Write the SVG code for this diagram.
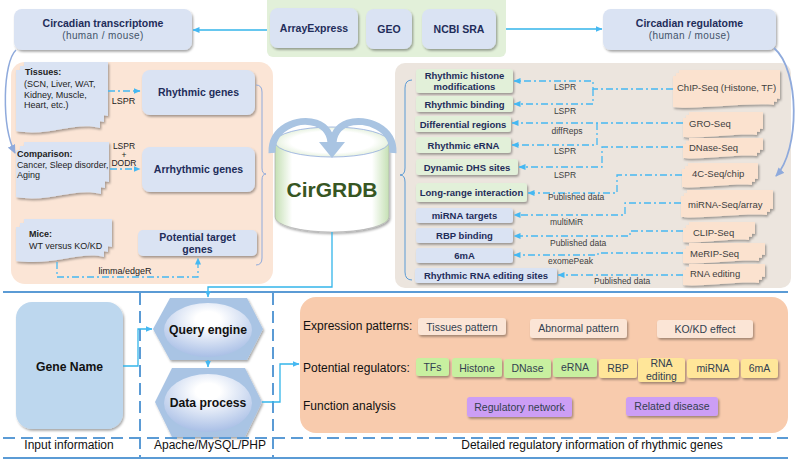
<svg xmlns="http://www.w3.org/2000/svg" width="796" height="460" viewBox="0 0 796 460">
<defs>
<filter id="sh" x="-10%" y="-10%" width="130%" height="150%"><feDropShadow dx="1.2" dy="1.8" stdDeviation="1.1" flood-color="#000" flood-opacity="0.35"/></filter>
<marker id="ah" markerWidth="7" markerHeight="6" refX="6.5" refY="3" orient="auto" markerUnits="userSpaceOnUse"><path d="M0,0 L7,3 L0,6 z" fill="#45b8f2"/></marker>
<marker id="ahg" markerWidth="9" markerHeight="8" refX="8" refY="4" orient="auto" markerUnits="userSpaceOnUse"><path d="M0,0 L9,4 L0,8 z" fill="#8faadc"/></marker>
<linearGradient id="cylG" x1="0" y1="0" x2="1" y2="0"><stop offset="0" stop-color="#c5e0b4"/><stop offset="0.15" stop-color="#fff"/><stop offset="0.85" stop-color="#fff"/><stop offset="1" stop-color="#c5e0b4"/></linearGradient>
<radialGradient id="topG" cx="0.5" cy="0.5" r="0.6"><stop offset="0.6" stop-color="#fff"/><stop offset="1" stop-color="#d5e8c8"/></radialGradient>
<radialGradient id="ellG" cx="0.5" cy="0.3" r="0.7"><stop offset="0.2" stop-color="#fff"/><stop offset="1" stop-color="#a9bfe6"/></radialGradient>
<style>
text{font-family:"Liberation Sans",Arial,sans-serif}
.bx{fill:#dae3f3;filter:url(#sh)}
.gb{fill:#e2f0d9;filter:url(#sh)}
.nv{fill:#1f2d5a;font-weight:bold}
.sub{fill:#44546a;font-size:10px;letter-spacing:0.4px}
.doc{fill:#dae3f3}
.pdoc{fill:#fbe2cf}
.dd{fill:none;stroke:#45b8f2;stroke-width:1.3;stroke-dasharray:7 3 2 3}
.lbl{font-size:8.5px;fill:#404040}
.sl{fill:none;stroke:#33b5ea;stroke-width:1.3}
.bl{stroke:#5b9bd5;stroke-width:2;fill:none}
.bd{stroke:#5b9bd5;stroke-width:2;fill:none;stroke-dasharray:12 6}
.ep{fill:#fbe5d6;filter:url(#sh)}
.gr{fill:#c8f0a0;filter:url(#sh)}
.yl{fill:#ffe699;filter:url(#sh)}
.pu{fill:#cc9ef5;filter:url(#sh)}
.bt{font-size:10.5px;fill:#333f50;text-anchor:middle}
.hd{font-size:12px;fill:#111}
.rt{font-size:9.5px;text-anchor:middle}
.pt{font-size:9.5px;fill:#404040}
</style>
</defs>

<!-- panels -->
<rect x="11" y="62" width="262" height="222" rx="14" fill="#fbe5d6"/>
<rect x="395" y="63" width="396" height="225" rx="10" fill="#ece5de"/>
<rect x="300" y="297" width="488" height="136" rx="16" fill="#f8cbad"/>

<!-- top sources -->
<g id="sources">
<rect x="267" y="-6" width="239" height="63" rx="6" fill="#e2f0d9"/>
<g id="arrayexpress"><rect class="bx" x="270" y="8" width="88" height="40" rx="8"/><text class="nv" x="314" y="32" font-size="10.5" text-anchor="middle">ArrayExpress</text></g>
<g id="geo"><rect class="bx" x="366" y="9" width="46" height="40" rx="8"/><text class="nv" x="389" y="33" font-size="10.5" text-anchor="middle">GEO</text></g>
<g id="ncbisra"><rect class="bx" x="422" y="9" width="74" height="40" rx="8"/><text class="nv" x="459" y="33" font-size="10.5" text-anchor="middle">NCBI SRA</text></g>
</g>

<g id="transcriptome"><rect class="bx" x="14" y="9" width="178" height="41" rx="8"/><text class="nv" x="103" y="27" font-size="10.5" text-anchor="middle">Circadian transcriptome</text><text class="sub" x="103" y="39" text-anchor="middle">(human / mouse)</text></g>
<g id="regulatome"><rect class="bx" x="603" y="9" width="173" height="41" rx="8"/><text class="nv" x="689.5" y="27" font-size="10.5" text-anchor="middle">Circadian regulatome</text><text class="sub" x="689.5" y="39" text-anchor="middle">(human / mouse)</text></g>

<!-- left panel docs -->
<g id="tissues">
<g filter="url(#sh)">
<path class="doc" d="M24,62 H108 V116 C83,109 58,125 24,119 Z"/>
<path class="doc" d="M20,66 H104 V122 C79,115 54,131 20,125 Z"/>
<path class="doc" d="M16,70 H100 V128 C75,121 50,137 16,131 Z"/>
</g>
<text x="25" y="75" font-size="9" font-weight="bold" fill="#222">Tissues:</text>
<text x="24" y="87" font-size="9" fill="#222">(SCN, Liver, WAT,</text>
<text x="24" y="97.5" font-size="9" fill="#222">Kidney, Muscle,</text>
<text x="24" y="108" font-size="9" fill="#222">Heart, etc.)</text>
</g>
<g id="comparison">
<g filter="url(#sh)">
<path class="doc" d="M24,142 H109 V182 C83,175 58,191 24,185 Z"/>
<path class="doc" d="M20,146 H105 V188 C79,181 54,197 20,191 Z"/>
<path class="doc" d="M16,150 H101 V194 C75,187 50,203 16,197 Z"/>
</g>
<text x="17" y="157" font-size="9" font-weight="bold" fill="#222">Comparison:</text>
<text x="17" y="167.5" font-size="8.8" fill="#222">Cancer, Sleep disorder,</text>
<text x="17" y="178" font-size="9" fill="#222">Aging</text>
</g>
<g id="mice">
<g filter="url(#sh)">
<path class="doc" d="M24,219 H112 V247 C88,241 63,256 24,251 Z"/>
<path class="doc" d="M20,223 H108 V252 C84,246 59,261 20,256 Z"/>
<path class="doc" d="M16,227 H104 V257 C80,251 55,266 16,261 Z"/>
</g>
<text x="29" y="237" font-size="9" font-weight="bold" fill="#222">Mice:</text>
<text x="29" y="249" font-size="9" fill="#222">WT versus KO/KD</text>
</g>

<g id="rhythmic-genes"><rect class="bx" x="142" y="70" width="113" height="45" rx="8"/><text class="nv" x="198.5" y="96" font-size="10.5" text-anchor="middle">Rhythmic genes</text></g>
<g id="arrhythmic-genes"><rect class="bx" x="142" y="147" width="113" height="45" rx="8"/><text class="nv" x="198.5" y="173" font-size="10.5" text-anchor="middle">Arrhythmic genes</text></g>
<g id="potential-target"><rect class="bx" x="138" y="230" width="119" height="26" rx="5"/><text class="nv" x="197.5" y="241" font-size="10.5" text-anchor="middle">Potential target</text><text class="nv" x="197.5" y="253" font-size="10.5" text-anchor="middle">genes</text></g>

<!-- CirGRDB -->
<g id="cirgrdb">
<path d="M275,142 V217 A57,15 0 0 0 389,217 V142 Z" fill="url(#cylG)" stroke="#a6a6a6" stroke-width="0.6" filter="url(#sh)"/>
<ellipse cx="332" cy="142" rx="57" ry="15" fill="url(#topG)" stroke="#8faadc" stroke-width="0.8"/>
<text x="332" y="197" font-size="21" font-weight="bold" fill="#375623" text-anchor="middle">CirGRDB</text>
<path d="M272,153 C271,128 298,117 316,123 C327,127 331,135 331,145" fill="none" stroke="#a9c4e2" stroke-width="7"/>
<path d="M393,153 C394,128 366,117 348,123 C337,127 333,135 333,145" fill="none" stroke="#a9c4e2" stroke-width="7"/>
<polygon points="319,142 345,142 332,158" fill="#a9c4e2"/>
</g>

<!-- right panel green/blue boxes -->
<g id="histone"><rect class="gb" x="416" y="69" width="97" height="24" rx="3"/><text class="nv rt" x="464.5" y="78.5">Rhythmic histone</text><text class="nv rt" x="464.5" y="90">modifications</text></g>
<g id="binding"><rect class="gb" x="416" y="96" width="97" height="16" rx="3"/><text class="nv rt" x="464.5" y="107.5">Rhythmic binding</text></g>
<g id="differential"><rect class="gb" x="415" y="116" width="96" height="16" rx="3"/><text class="nv rt" x="463" y="127.5">Differential regions</text></g>
<g id="erna"><rect class="gb" x="416" y="137" width="95" height="16" rx="3"/><text class="nv rt" x="463.5" y="148.5">Rhythmic eRNA</text></g>
<g id="dhs"><rect class="gb" x="416" y="159" width="102" height="16" rx="3"/><text class="nv rt" x="467" y="170.5">Dynamic DHS sites</text></g>
<g id="longrange"><rect class="gb" x="416" y="183" width="111" height="19" rx="3"/><text class="nv rt" x="471.5" y="195.5">Long-range interaction</text></g>
<g id="mirna-targets"><rect class="bx" x="416" y="208" width="97" height="15" rx="3"/><text class="nv rt" x="464.5" y="219">miRNA targets</text></g>
<g id="rbp-binding"><rect class="bx" x="416" y="228" width="97" height="15" rx="3"/><text class="nv rt" x="464.5" y="239">RBP binding</text></g>
<g id="sixma"><rect class="bx" x="416" y="248" width="97" height="15" rx="3"/><text class="nv rt" x="464.5" y="259">6mA</text></g>
<g id="rna-editing-sites"><rect class="bx" x="415" y="268" width="142" height="15" rx="3"/><text class="nv rt" x="486" y="279">Rhythmic RNA editing sites</text></g>

<!-- right peach docs -->
<g id="chipseq"><g filter="url(#sh)">
<path class="pdoc" d="M679,70 H780 V99 C760,96 700,104 679,101 Z"/>
<path class="pdoc" d="M676,73 H777 V102 C757,99 697,107 676,104 Z"/>
<path class="pdoc" d="M673,76 H774 V105 C754,102 694,110 673,107 Z"/></g>
<text class="pt" x="677" y="90.5">ChIP-Seq (Histone, TF)</text></g>
<g id="groseq"><g filter="url(#sh)">
<path class="pdoc" d="M689,112 H763 V129 C745,127 705,133 689,131 Z"/>
<path class="pdoc" d="M686,115 H760 V132 C742,130 702,136 686,134 Z"/>
<path class="pdoc" d="M683,118 H757 V135 C739,133 699,139 683,137 Z"/></g>
<text class="pt" x="689" y="126.5">GRO-Seq</text></g>
<g id="dnaseseq"><g filter="url(#sh)">
<path class="pdoc" d="M689,138 H763 V150 C745,148 705,154 689,152 Z"/>
<path class="pdoc" d="M686,141 H760 V153 C742,151 702,157 686,155 Z"/>
<path class="pdoc" d="M683,144 H757 V156 C739,154 699,160 683,158 Z"/></g>
<text class="pt" x="689" y="150.5">DNase-Seq</text></g>
<g id="fourc"><g filter="url(#sh)">
<path class="pdoc" d="M688,163 H758 V179 C740,177 700,183 688,181 Z"/>
<path class="pdoc" d="M685,166 H755 V182 C737,180 697,186 685,184 Z"/>
<path class="pdoc" d="M682,169 H752 V185 C734,183 694,189 682,187 Z"/></g>
<text class="pt" x="692" y="176.5">4C-Seq/chip</text></g>
<g id="mirnaseq"><g filter="url(#sh)">
<path class="pdoc" d="M687,190 H773 V209 C750,207 705,213 687,211 Z"/>
<path class="pdoc" d="M684,193 H770 V212 C747,210 702,216 684,214 Z"/>
<path class="pdoc" d="M681,196 H767 V215 C744,213 699,219 681,217 Z"/></g>
<text class="pt" x="688" y="207.5">miRNA-Seq/array</text></g>
<g id="clipseq"><g filter="url(#sh)">
<path class="pdoc" d="M689,222 H755 V234 C738,232 703,238 689,236 Z"/>
<path class="pdoc" d="M686,225 H752 V237 C735,235 700,241 686,239 Z"/>
<path class="pdoc" d="M683,228 H749 V240 C732,238 697,244 683,242 Z"/></g>
<text class="pt" x="693" y="235.5">CLIP-Seq</text></g>
<g id="meripseq"><g filter="url(#sh)">
<path class="pdoc" d="M689,243 H765 V255 C746,253 706,259 689,257 Z"/>
<path class="pdoc" d="M686,246 H762 V258 C743,256 703,262 686,260 Z"/>
<path class="pdoc" d="M683,249 H759 V261 C740,259 700,265 683,263 Z"/></g>
<text class="pt" x="690" y="256.5">MeRIP-Seq</text></g>
<g id="rnaediting"><g filter="url(#sh)">
<path class="pdoc" d="M689,264 H765 V277 C746,275 706,281 689,279 Z"/>
<path class="pdoc" d="M686,267 H762 V280 C743,278 703,284 686,282 Z"/>
<path class="pdoc" d="M683,270 H759 V283 C740,281 700,287 683,285 Z"/></g>
<text class="pt" x="690" y="276.5">RNA editing</text></g>

<!-- bottom section -->
<g id="gene-name"><rect x="16" y="302" width="107" height="127" rx="16" fill="#bdd7ee" filter="url(#sh)"/><text x="69.5" y="371" font-size="12.2" font-weight="bold" fill="#111" text-anchor="middle">Gene Name</text></g>
<g id="query-engine"><polygon points="153,329 170,298 247,298 263,329 247,360 170,360" fill="#a9c4e4" filter="url(#sh)"/><ellipse cx="208" cy="330" rx="44" ry="27" fill="url(#ellG)"/><text x="208" y="334" font-size="12.2" font-weight="bold" fill="#111" text-anchor="middle">Query engine</text></g>
<g id="data-process"><polygon points="155,402 172,368 245,368 262,402 245,437 172,437" fill="#a9c4e4" filter="url(#sh)"/><ellipse cx="208" cy="403" rx="44" ry="29" fill="url(#ellG)"/><text x="208" y="407" font-size="12.2" font-weight="bold" fill="#111" text-anchor="middle">Data process</text></g>

<g id="detail-panel">
<text class="hd" x="303" y="330">Expression patterns:</text>
<text class="hd" x="303" y="372">Potential regulators:</text>
<text class="hd" x="303" y="410">Function analysis</text>
<g id="tissues-pattern"><rect class="ep" x="418" y="318" width="88" height="17" rx="3"/><text class="bt" x="462" y="330.5">Tissues pattern</text></g>
<g id="abnormal-pattern"><rect class="ep" x="530" y="319" width="97" height="19" rx="3"/><text class="bt" x="578.5" y="332">Abnormal pattern</text></g>
<g id="kokd-effect"><rect class="ep" x="657" y="320" width="96" height="18" rx="3"/><text class="bt" x="705" y="333">KO/KD effect</text></g>
<g id="tfs"><rect class="gr" x="416" y="358" width="33" height="18" rx="3"/><text class="bt" x="432.5" y="371">TFs</text></g>
<g id="histone-r"><rect class="gr" x="452" y="358" width="50" height="19" rx="3"/><text class="bt" x="477" y="371.5">Histone</text></g>
<g id="dnase-r"><rect class="gr" x="504" y="359" width="47" height="19" rx="3"/><text class="bt" x="527.5" y="372">DNase</text></g>
<g id="erna-r"><rect class="gr" x="553" y="358" width="44" height="19" rx="3"/><text class="bt" x="575" y="371">eRNA</text></g>
<g id="rbp-r"><rect class="yl" x="599" y="359" width="38" height="19" rx="3"/><text class="bt" x="618" y="372">RBP</text></g>
<g id="rnaediting-r"><rect class="yl" x="638" y="358" width="47" height="24" rx="3"/><text class="bt" x="661.5" y="367">RNA</text><text class="bt" x="661.5" y="380">editing</text></g>
<g id="mirna-r"><rect class="yl" x="687" y="359" width="52" height="19" rx="3"/><text class="bt" x="713" y="372">miRNA</text></g>
<g id="sixma-r"><rect class="yl" x="741" y="359" width="37" height="19" rx="3"/><text class="bt" x="759.5" y="372">6mA</text></g>
<g id="regulatory-network"><rect class="pu" x="467" y="397" width="105" height="20" rx="3"/><text class="bt" x="519.5" y="411">Regulatory network</text></g>
<g id="related-disease"><rect class="pu" x="626" y="397" width="92" height="19" rx="3"/><text class="bt" x="672" y="410">Related disease</text></g>
</g>

<g id="section-labels">
<text x="69" y="449" font-size="12" fill="#111" text-anchor="middle">Input information</text>
<text x="210" y="449" font-size="12" fill="#111" text-anchor="middle">Apache/MySQL/PHP</text>
<text x="592" y="449" font-size="12" fill="#111" text-anchor="middle">Detailed regulatory information of rhythmic genes</text>
</g>

<!-- connectors -->
<g id="connectors">
<line class="bl" x1="3" y1="292" x2="788" y2="292"/>
<line class="bl" x1="3" y1="458" x2="788" y2="458"/>
<line class="bd" x1="3" y1="438" x2="788" y2="438"/>
<line class="bd" x1="140" y1="293" x2="140" y2="457"/>
<line class="bd" x1="273" y1="293" x2="273" y2="457"/>

<path class="sl" d="M267,30 H193" marker-end="url(#ah)"/>
<path class="sl" d="M506,29 H602" marker-end="url(#ah)"/>
<path d="M16,50 C3,62 1,125 15,153" fill="none" stroke="#8faadc" stroke-width="1.5" marker-end="url(#ahg)"/>
<path d="M774,48 C800,70 800,150 776,176" fill="none" stroke="#8faadc" stroke-width="1.8" marker-end="url(#ahg)"/>
<path d="M256,85 Q262,85 262,92 V168 Q262,174 266,174 Q262,174 262,180 V258 Q262,265 256,265" fill="none" stroke="#8faadc" stroke-width="1"/>
<path d="M412,80 Q405,80 405,88 V168 Q405,175 400,175 Q405,175 405,182 V272 Q405,280 412,280" fill="none" stroke="#5b9bd5" stroke-width="1"/>

<path class="dd" d="M108,91 H140" marker-end="url(#ah)"/>
<text x="123.5" y="104" font-size="9" fill="#222" text-anchor="middle">LSPR</text>
<path class="dd" d="M110,169 H140" marker-end="url(#ah)"/>
<text x="124" y="149" font-size="8.5" fill="#222" text-anchor="middle">LSPR</text>
<text x="124" y="157.5" font-size="8.5" fill="#222" text-anchor="middle">+</text>
<text x="124" y="166" font-size="8.5" fill="#222" text-anchor="middle">DODR</text>
<path class="dd" d="M57,262 V277 H198 V258" marker-end="url(#ah)"/>
<text x="125" y="274" font-size="9" fill="#222" text-anchor="middle">limma/edgeR</text>

<path class="dd" d="M673,89 H593 V81 H514" marker-end="url(#ah)"/>
<path class="dd" d="M593,89 V104 H514" marker-end="url(#ah)"/>
<text class="lbl" x="565" y="90" text-anchor="middle">LSPR</text>
<text class="lbl" x="565" y="114" text-anchor="middle">LSPR</text>
<path class="dd" d="M683,123 H512" marker-end="url(#ah)"/>
<path class="dd" d="M597,123 V145 H512" marker-end="url(#ah)"/>
<text class="lbl" x="567" y="133.5" text-anchor="middle">diffReps</text>
<text class="lbl" x="565" y="154" text-anchor="middle">LSPR</text>
<path class="dd" d="M683,147 H602 V167 H519" marker-end="url(#ah)"/>
<text class="lbl" x="565" y="178" text-anchor="middle">LSPR</text>
<path class="dd" d="M682,175 H617 V193 H528" marker-end="url(#ah)"/>
<text class="lbl" x="548" y="200">Published data</text>
<path class="dd" d="M681,203 H625 V215 H514" marker-end="url(#ah)"/>
<text class="lbl" x="550" y="225">multiMiR</text>
<path class="dd" d="M683,231 H630 V236 H514" marker-end="url(#ah)"/>
<text class="lbl" x="550" y="245.5">Published data</text>
<path class="dd" d="M683,253 H598 V255 H514" marker-end="url(#ah)"/>
<text class="lbl" x="548" y="264">exomePeak</text>
<path class="dd" d="M683,275 H558" marker-end="url(#ah)"/>
<text class="lbl" x="594" y="283.5">Published data</text>

<path class="sl" d="M332,232 V287 H208 V297" marker-end="url(#ah)"/>
<path class="sl" d="M123,366 H138 V329 H152" marker-end="url(#ah)"/>
<path class="sl" d="M208,360 V367" marker-end="url(#ah)"/>
<path class="sl" d="M262,402 H280 V364 H299" marker-end="url(#ah)"/>
</g>
</svg>
